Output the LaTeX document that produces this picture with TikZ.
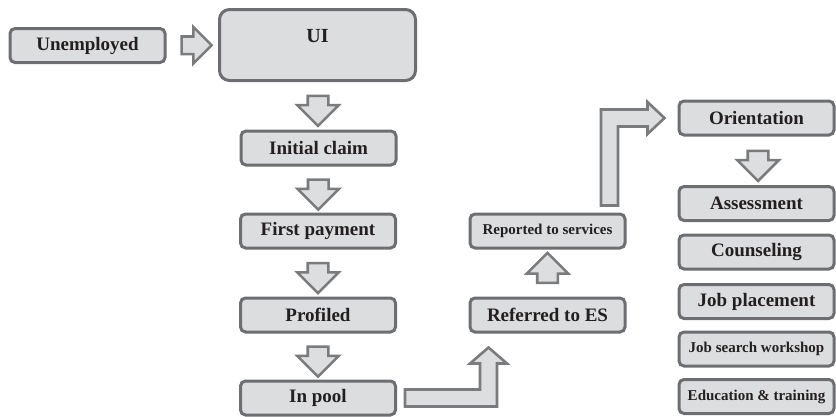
\documentclass[tikz,border=0pt]{standalone}
\usepackage{fontspec}
\setmainfont{Liberation Serif}
\usetikzlibrary{shapes.arrows,calc}
\definecolor{boxline}{HTML}{6D6E71}
\definecolor{boxfill}{HTML}{DCDDDE}
\definecolor{arrline}{HTML}{7A7B7D}
\definecolor{arrfill}{HTML}{DDDEDF}
\definecolor{ink}{HTML}{231F20}
\begin{document}
\begin{tikzpicture}[x=1pt,y=-1pt,
  stage/.style={draw=boxline, fill=boxfill, line width=3pt, rounded corners=5pt,
    minimum width=155pt, minimum height=34pt, inner sep=0pt, text=ink,
    font=\bfseries\fontsize{19}{22}\selectfont},
  smalltext/.style={font=\bfseries\fontsize{15}{18}\selectfont},
  blk/.style={single arrow, draw=arrline, fill=arrfill, line width=2.6pt,
    minimum height=30pt, inner xsep=0pt, inner ysep=9pt, single arrow head extend=10.5pt},
  elbowarrow/.style={draw=arrline, fill=arrfill, line width=2.6pt}]
  \useasboundingbox (0,0) rectangle (836,416);
  % left column
  \node [stage] (unemp) at (87.5,45.5) {Unemployed};
  \node [stage, minimum width=196pt, minimum height=71pt, rounded corners=10pt] (ui) at (317.5,45) {};
  \node [text=ink, font=\bfseries\fontsize{20}{24}\selectfont] (uitext) at (317.5,36) {UI};
  \node [stage] (init) at (318.5,148) {Initial claim};
  \node [stage] (pay) at (318,231) {First payment};
  \node [stage] (prof) at (318,315) {Profiled};
  \node [stage] (pool) at (318,398) {In pool};
  % middle column
  \node [stage] (refer) at (547.5,315) {Referred to ES};
  \node [stage, smalltext] (report) at (547.5,231) {Reported to services};
  % right column
  \node [stage] (orient) at (756.5,118) {Orientation};
  \node [stage] (assess) at (756.5,203.5) {Assessment};
  \node [stage] (couns) at (756.5,252) {Counseling};
  \node [stage] (jobpl) at (756.5,301.5) {Job placement};
  \node [stage, smalltext] (jsw) at (756.5,349) {Job search workshop};
  \node [stage, smalltext] (edu) at (756.5,396.5) {Education \& training};
  % block arrows
  \node [blk, inner ysep=7.5pt, single arrow head extend=9.5pt] (a0) at ($(unemp.east)!.5!(ui.west)$) {};
  \node [blk, rotate=-90] (a1) at ($(ui.south)!.5!(init.north)$) {};
  \node [blk, rotate=-90] (a2) at ($(init.south)!.5!(pay.north)$) {};
  \node [blk, rotate=-90] (a3) at ($(pay.south)!.5!(prof.north)$) {};
  \node [blk, rotate=-90] (a4) at ($(prof.south)!.5!(pool.north)$) {};
  \node [blk, rotate=90] (a5) at ($(refer.north)!.5!(report.south)$) {};
  \node [blk, rotate=-90] (a6) at ($([xshift=1.5pt]orient.south)!.5!([xshift=1.5pt]assess.north)$) {};
  % bent arrows
  \coordinate (e1) at ([xshift=8pt]pool.east);
  \coordinate (e1t) at ([xshift=-59pt,yshift=-14pt]refer.south);
  \draw [elbowarrow] let \p1=(e1), \p2=(e1t) in
    (\x1,\y1+8.5pt) -- (\x2-8.5pt,\y1+8.5pt) -- (\x2-8.5pt,\y2-16pt) -- (\x2-18.5pt,\y2-16pt)
    -- (\x2,\y2) -- (\x2+18.5pt,\y2-16pt) -- (\x2+8.5pt,\y2-16pt) -- (\x2+8.5pt,\y1-8.5pt)
    -- (\x1,\y1-8.5pt) -- cycle;
  \coordinate (e2) at ([xshift=62pt,yshift=7pt]report.north);
  \coordinate (e2t) at ([xshift=-13pt]orient.west);
  \draw [elbowarrow] let \p1=(e2), \p2=(e2t) in
    (\x1-8.5pt,\y1) -- (\x1-8.5pt,\y2+8.5pt) -- (\x2-17pt,\y2+8.5pt) -- (\x2-17pt,\y2+16pt)
    -- (\x2,\y2) -- (\x2-17pt,\y2-16pt) -- (\x2-17pt,\y2-8.5pt) -- (\x1+8.5pt,\y2-8.5pt)
    -- (\x1+8.5pt,\y1) -- cycle;
\end{tikzpicture}
\end{document}
